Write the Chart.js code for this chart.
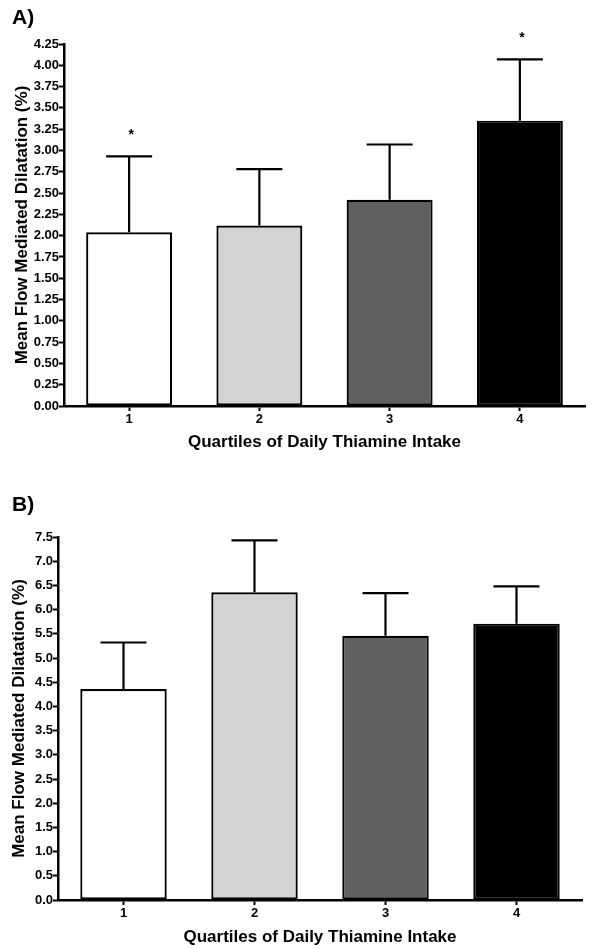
<!DOCTYPE html>
<html>
<head>
<meta charset="utf-8">
<script src="https://cdn.jsdelivr.net/npm/chart.js@4"></script>
<style>
  body { margin: 0; background: #fff; }
  .panel { position: absolute; left: 0; width: 606px; }
  canvas { display: block; }
</style>
</head>
<body>
<div class="panel" style="top:0;height:470px"><canvas id="chartA" width="606" height="470"></canvas></div>
<div class="panel" style="top:470px;height:479px"><canvas id="chartB" width="606" height="479"></canvas></div>
<script>
// quartiles of daily thiamine intake
var quartiles = ['1', '2', '3', '4'];
var barColors = ['#ffffff', '#d3d3d3', '#606060', '#000000'];

// panel A
var meanA = [2.04, 2.12, 2.42, 3.35];
var errA = [0.89, 0.66, 0.65, 0.72];
var starsA = ['*', '', '', '*'];

// panel B
var meanB = [4.36, 6.36, 5.46, 5.71];
var errB = [0.96, 1.07, 0.88, 0.77];
var starsB = ['', '', '', ''];

var FONT = '"Liberation Sans", Arial, sans-serif';

// upper error bars, asterisks and the panel letter
var extrasPlugin = {
    id: 'extras',
    afterDatasetsDraw: function (chart) {
        var o = chart.options.plugins.extras;
        var ctx = chart.ctx;
        var meta = chart.getDatasetMeta(0);
        var y = chart.scales.y;
        ctx.save();
        ctx.strokeStyle = '#000';
        ctx.lineWidth = 2.2;
        meta.data.forEach(function (bar, i) {
            var x = bar.x;
            var top = y.getPixelForValue(o.mean[i]);
            var cap = y.getPixelForValue(o.mean[i] + o.err[i]);
            ctx.beginPath();
            ctx.moveTo(x, top);
            ctx.lineTo(x, cap);
            ctx.moveTo(x - 23, cap);
            ctx.lineTo(x + 23, cap);
            ctx.stroke();
            if (o.stars[i]) {
                ctx.fillStyle = '#000';
                ctx.font = 'bold 14px ' + FONT;
                ctx.textAlign = 'center';
                ctx.textBaseline = 'middle';
                ctx.fillText(o.stars[i], x + 2, cap - 21);
            }
        });
        ctx.fillStyle = '#000';
        ctx.font = 'bold 21px ' + FONT;
        ctx.textAlign = 'left';
        ctx.textBaseline = 'middle';
        ctx.fillText(o.letter, o.letterX, o.letterY);
        ctx.restore();
    }
};

function makeChart(id, mean, err, stars, cfg) {
    return new Chart(document.getElementById(id), {
        type: 'bar',
        data: {
            labels: quartiles,
            datasets: [{
                data: mean,
                backgroundColor: barColors,
                borderColor: '#000',
                borderWidth: 2.2,
                borderSkipped: false,
                barPercentage: 0.66,
                categoryPercentage: 1.0
            }]
        },
        options: {
            responsive: false,
            animation: false,
            layout: { padding: { left: 0, top: cfg.padTop, right: cfg.padRight, bottom: 0 } },
            plugins: {
                legend: { display: false },
                tooltip: { enabled: false },
                extras: { mean: mean, err: err, stars: stars, letter: cfg.letter, letterX: 12, letterY: cfg.letterY }
            },
            scales: {
                x: {
                    grid: { display: true, drawOnChartArea: false, offset: false, tickLength: 5, tickWidth: 2, color: '#000' },
                    border: { display: true, color: '#000', width: 2.5 },
                    ticks: { color: '#000', padding: 1, font: { family: FONT, size: 13, weight: 'bold' } },
                    title: {
                        display: true,
                        text: 'Quartiles of Daily Thiamine Intake',
                        color: '#000',
                        font: { family: FONT, size: 17, weight: 'bold' },
                        padding: { top: 0, bottom: cfg.xTitlePad }
                    },
                    afterFit: function (s) { s.height = cfg.xHeight; }
                },
                y: {
                    min: 0,
                    max: cfg.max,
                    grid: { display: true, drawOnChartArea: false, tickLength: 5, tickWidth: 2, color: '#000' },
                    border: { display: true, color: '#000', width: 2.5 },
                    ticks: {
                        stepSize: cfg.step,
                        color: '#000',
                        padding: 0,
                        font: { family: FONT, size: 13, weight: 'bold' },
                        callback: function (v) { return v.toFixed(cfg.decimals); }
                    },
                    title: {
                        display: true,
                        text: 'Mean Flow Mediated Dilatation (%)',
                        color: '#000',
                        font: { family: FONT, size: 17, weight: 'bold' },
                        padding: { top: cfg.yTitlePad, bottom: 0 }
                    },
                    afterFit: function (s) { s.width = cfg.yWidth; }
                }
            }
        },
        plugins: [extrasPlugin]
    });
}

makeChart('chartA', meanA, errA, starsA, {
    letter: 'A)', letterY: 18, max: 4.25, step: 0.25, decimals: 2,
    padTop: 44, padRight: 21, xHeight: 64, yWidth: 64, xTitlePad: 17, yTitlePad: 12
});
makeChart('chartB', meanB, errB, starsB, {
    letter: 'B)', letterY: 35, max: 7.5, step: 0.5, decimals: 1,
    padTop: 67, padRight: 24, xHeight: 49, yWidth: 58, xTitlePad: 1, yTitlePad: 9
});
</script>
</body>
</html>
